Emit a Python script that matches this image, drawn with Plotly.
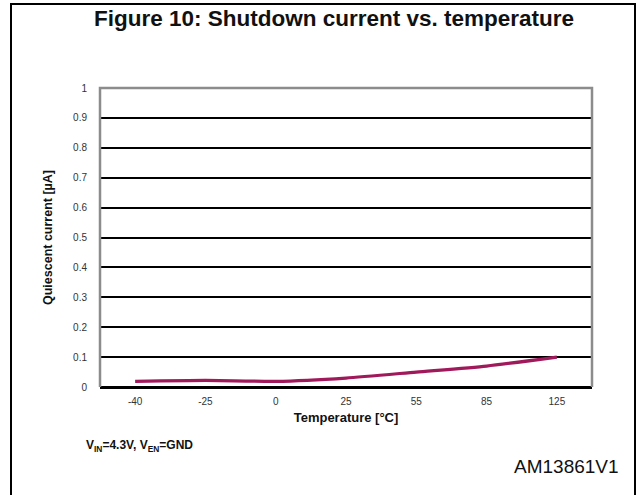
import plotly.graph_objects as go

temps = ["-40", "-25", "0", "25", "55", "85", "125"]
current_uA = [0.019, 0.022, 0.019, 0.030, 0.050, 0.070, 0.100]
y_ticks = [0, 0.1, 0.2, 0.3, 0.4, 0.5, 0.6, 0.7, 0.8, 0.9, 1]
y_tick_labels = ["0", "0.1", "0.2", "0.3", "0.4", "0.5", "0.6", "0.7", "0.8", "0.9", "1"]

W, H = 636, 495
L, R, T, B = 100, 44, 88, 108
pw, ph = W - L - R, H - T - B

def px(x):
    return (x - L) / pw

def py(y):
    return (H - B - y) / ph

FONT = "Liberation Sans, Arial, sans-serif"

fig = go.Figure()
fig.add_trace(go.Scatter(
    x=temps, y=current_uA, mode="lines",
    line=dict(color="#A0195B", width=3.2, shape="spline", smoothing=0.6),
    showlegend=False, hoverinfo="skip",
))

fig.update_layout(
    width=W, height=H,
    margin=dict(l=L, r=R, t=T, b=B),
    paper_bgcolor="white", plot_bgcolor="white",
    font=dict(family=FONT, color="#222"),
    xaxis=dict(
        type="category", range=[-0.5, 6.5],
        showgrid=False, zeroline=False, showline=False,
        ticks="", tickfont=dict(size=10, color="#333"),
        ticklabelstandoff=7,
        title=dict(text="<b>Temperature [°C]</b>", font=dict(size=13, color="#111"), standoff=6),
        fixedrange=True,
    ),
    yaxis=dict(
        range=[0, 1], tickvals=y_ticks, ticktext=y_tick_labels,
        showgrid=True, gridcolor="#000", gridwidth=1.5,
        zeroline=True, zerolinecolor="#000", zerolinewidth=2.5,
        showline=False, ticks="", tickfont=dict(size=10, color="#333"),
        ticklabelstandoff=12,
        title=dict(text="<b>Quiescent current [µA]</b>", font=dict(size=12.5, color="#111"), standoff=17),
        fixedrange=True,
    ),
    shapes=[
        dict(type="path", xref="paper", yref="paper",
             path="M 0,0 L 0,1 L 1,1 L 1,0",
             line=dict(color="#8c8c8c", width=2.5), layer="above"),
        dict(type="rect", xref="paper", yref="paper",
             x0=px(11), x1=px(635), y0=py(4), y1=py(520),
             line=dict(color="#000", width=2)),
    ],
    annotations=[
        dict(text="<b>Figure 10: Shutdown current vs. temperature</b>",
             xref="paper", yref="paper", x=px(334), y=py(19),
             xanchor="center", yanchor="middle", showarrow=False,
             font=dict(size=22.5, color="#111", family=FONT)),
        dict(text="<b>V<sub>IN</sub>=4.3V, V<sub>EN</sub>=GND</b>",
             xref="paper", yref="paper", x=px(84), y=py(446),
             xanchor="left", yanchor="middle", showarrow=False,
             font=dict(size=12, color="#111", family=FONT)),
        dict(text="AM13861V1",
             xref="paper", yref="paper", x=px(621), y=py(466),
             xanchor="right", yanchor="middle", showarrow=False,
             font=dict(size=19, color="#111", family=FONT)),
    ],
)

fig.write_html("out.html", config={"displayModeBar": False},
               post_script="document.body.style.margin='0';document.body.style.overflow='hidden';")
